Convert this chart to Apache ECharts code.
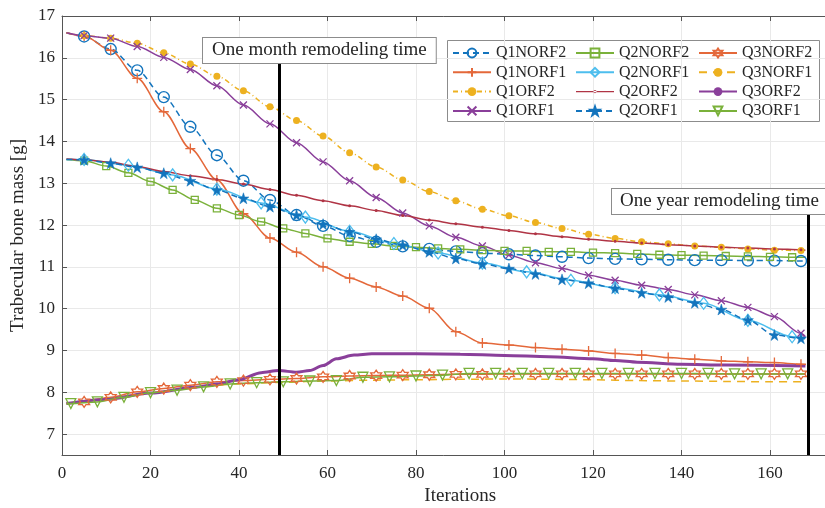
<!DOCTYPE html>
<html><head><meta charset="utf-8">
<script src="https://cdn.jsdelivr.net/npm/echarts@6/dist/echarts.min.js"></script>
<style>html,body{margin:0;padding:0;background:#fff}#c{width:825px;height:508px}</style>
</head><body><div id="c"></div><script>
// ---------- data ----------
const xTicks = [0,20,40,60,80,100,120,140,160];
const yTicks = [7,8,9,10,11,12,13,14,15,16,17];
const iterStart = 1, iterEnd = 168;
const monthIter = 49, yearIter = 168.6;

const it6a = [5,11,17,23,29,35,41,47,53,59,65,71,77,83,89,95,101,107,113,119,125,131,137,143,149,155,161,167];
const it6b = [2,8,14,20,26,32,38,44,50,56,62,68,74,80,86,92,98,104,110,116,122,128,134,140,146,152,158,164];
const it5  = [5,10,15,20,25,30,35,40,45,50,55,60,65,70,75,80,85,90,95,100,105,110,115,120,125,130,135,140,145,150,155,160,165];
const it10 = [5,15,25,35,45,55,65,75,85,95,105,115,125,135,145,155,165];

const Q1NORF2 = {start:16.6, end:11.14, it:it6a, v:[16.51,16.21,15.70,15.06,14.35,13.67,13.06,12.60,12.24,11.98,11.74,11.60,11.49,11.43,11.37,11.33,11.30,11.27,11.24,11.21,11.19,11.18,11.17,11.16,11.16,11.15,11.15,11.14]};
const Q1NORF1 = {start:16.6, end:8.66, it:it6a, v:[16.52,16.18,15.51,14.71,13.83,13.08,12.27,11.69,11.35,11.00,10.73,10.52,10.30,10.01,9.45,9.18,9.13,9.07,9.03,8.99,8.93,8.89,8.83,8.79,8.75,8.73,8.71,8.67]};
const Q1ORF2 = {start:16.6, end:11.39, it:it6a, v:[16.53,16.47,16.35,16.12,15.85,15.56,15.21,14.83,14.50,14.13,13.73,13.39,13.08,12.80,12.58,12.38,12.22,12.06,11.92,11.78,11.68,11.60,11.55,11.50,11.47,11.43,11.40,11.39]};
const Q1ORF1 = {start:16.6, end:9.33, it:it6a, v:[16.53,16.47,16.27,16.01,15.72,15.33,14.87,14.42,13.97,13.51,13.06,12.66,12.29,11.98,11.71,11.50,11.28,11.10,10.96,10.80,10.68,10.56,10.46,10.33,10.19,10.03,9.81,9.41]};
const Q2NORF2 = {start:13.57, end:11.23, it:it5, v:[13.54,13.41,13.25,13.04,12.84,12.60,12.40,12.24,12.08,11.92,11.80,11.68,11.60,11.55,11.50,11.47,11.44,11.42,11.40,11.38,11.38,11.36,11.36,11.34,11.33,11.31,11.29,11.28,11.27,11.26,11.25,11.24,11.23]};
const Q2NORF1 = {start:13.57, end:9.30, it:it10, v:[13.57,13.43,13.20,12.86,12.53,12.19,11.85,11.56,11.33,11.09,10.88,10.68,10.50,10.33,10.13,9.72,9.33]};
const Q2ORF2 = {start:13.58, end:11.40, it:it6a, v:[13.56,13.50,13.40,13.28,13.18,13.09,12.98,12.85,12.71,12.58,12.46,12.35,12.23,12.12,12.03,11.95,11.87,11.79,11.72,11.66,11.61,11.57,11.53,11.50,11.47,11.45,11.43,11.41]};
const Q2ORF1 = {start:13.57, end:9.28, it:it6a, v:[13.56,13.48,13.38,13.24,13.06,12.84,12.64,12.44,12.24,12.02,11.84,11.66,11.52,11.36,11.20,11.07,10.96,10.83,10.70,10.61,10.49,10.38,10.28,10.14,9.98,9.73,9.37,9.29]};
const Q3NORF2 = {start:7.73, end:8.44, it:it6a, v:[7.77,7.88,8.01,8.09,8.17,8.25,8.28,8.31,8.33,8.37,8.39,8.40,8.41,8.42,8.43,8.43,8.44,8.44,8.44,8.44,8.44,8.44,8.44,8.44,8.44,8.44,8.44,8.44]};
const Q3NORF1 = {it:[1,10,20,30,40,50,60,70,80,90,100,110,120,130,140,150,160,168], v:[7.73,7.85,7.99,8.12,8.20,8.24,8.27,8.29,8.30,8.31,8.32,8.31,8.30,8.28,8.27,8.26,8.25,8.25]};
const Q3ORF2 = {it:[1,10,20,30,35,40,45,49,53,56,59,62,66,70,80,90,100,110,120,125,130,140,150,168], v:[7.73,7.83,7.98,8.12,8.20,8.30,8.47,8.52,8.48,8.52,8.64,8.80,8.89,8.92,8.92,8.91,8.88,8.85,8.80,8.76,8.72,8.67,8.65,8.63]};
const Q3ORF1 = {start:7.72, end:8.44, it:it6b, v:[7.73,7.77,7.88,7.99,8.05,8.13,8.20,8.23,8.25,8.27,8.28,8.36,8.37,8.39,8.41,8.45,8.45,8.45,8.45,8.45,8.45,8.45,8.45,8.45,8.45,8.44,8.44,8.44]};

// ---------- style ----------
const C = {blue:'#1374BD', orange:'#E4683A', yellow:'#EDB120', purple:'#8A3F9A', green:'#7AB13A', lblue:'#4DBEEE', red:'#B03445'};
const FONT = 'Liberation Serif';
const SYM = {
  plus:'path://M5,0V10M0,5H10',
  cross:'path://M0,0L10,10M10,0L0,10',
  star:'path://M50,0L61.8,35.1L98.9,35.1L68.9,56.7L80.3,91.9L50,70.2L19.7,91.9L31.1,56.7L1.1,35.1L38.2,35.1Z',
  hex:'path://M50,0L64.4,25L93.3,25L78.9,50L93.3,75L64.4,75L50,100L35.6,75L6.7,75L21.1,50L6.7,25L35.6,25Z',
  lineDot:'path://M0,0M38,11M0,4.8H38V6.2H0ZM17.4,5.5A1.6,1.6,0,1,0,20.6,5.5A1.6,1.6,0,1,0,17.4,5.5Z'
};

function withEnds(s){
  const d = [{value:[iterStart, s.start], symbol:'none'}];
  s.it.forEach((x,i)=>d.push([x, s.v[i]]));
  d.push({value:[iterEnd, s.end], symbol:'none'});
  return d;
}
function plain(s){ return s.it.map((x,i)=>[x, s.v[i]]); }

function ser(name, data, color, o){
  return Object.assign({
    name, type:'line', data, smooth:0.3, smoothMonotone:'x',
    showAllSymbol:true, animation:false, emphasis:{disabled:true},
    lineStyle:{color, width:1.5, type:o.dash||'solid'},
    symbol:o.symbol||'none', symbolSize:o.size||8,
    itemStyle:o.item||{color}
  }, o.extra||{});
}
const hollow = (c,w)=>({color:'rgba(255,255,255,0)', borderColor:c, borderWidth:w||1.3});

const series = [
  ser('Q1NORF2', withEnds(Q1NORF2), C.blue, {dash:[6,4], symbol:'circle', size:11, item:hollow(C.blue,1.4)}),
  ser('Q1NORF1', withEnds(Q1NORF1), C.orange, {symbol:SYM.plus, size:10, item:hollow(C.orange,1.3)}),
  ser('Q1ORF2', withEnds(Q1ORF2), C.yellow, {dash:[5,3,1,3], symbol:'circle', size:7, item:{color:C.yellow}}),
  ser('Q1ORF1', withEnds(Q1ORF1), C.purple, {symbol:SYM.cross, size:7, item:hollow(C.purple,1.3)}),
  ser('Q2NORF2', withEnds(Q2NORF2), C.green, {symbol:'rect', size:7, item:hollow(C.green,1.3)}),
  ser('Q2NORF1', withEnds(Q2NORF1), C.lblue, {symbol:'diamond', size:[9,12], item:hollow(C.lblue,1.3)}),
  ser('Q2ORF2', withEnds(Q2ORF2), C.red, {symbol:'circle', size:3, item:{color:C.red}}),
  ser('Q2ORF1', withEnds(Q2ORF1), C.blue, {dash:[6,4], symbol:SYM.star, size:11, item:{color:C.blue, borderColor:C.blue, borderWidth:0.5}}),
  ser('Q3NORF2', withEnds(Q3NORF2), C.orange, {symbol:SYM.hex, size:11, item:hollow(C.orange,1.3)}),
  ser('Q3NORF1', plain(Q3NORF1), C.yellow, {dash:[8,6], symbol:'none', item:{color:C.yellow}}),
  ser('Q3ORF2', plain(Q3ORF2), C.purple, {symbol:'none', item:{color:C.purple}}),
  ser('Q3ORF1', withEnds(Q3ORF1), C.green, {symbol:'triangle', size:10, item:hollow(C.green,1.3), extra:{symbolRotate:180}})
];
series[10].lineStyle.width = 3;
series[11].markLine = {
  silent:true, symbol:['none','none'], label:{show:false}, animation:false,
  lineStyle:{color:'#000', width:3, type:'solid'},
  data:[[{coord:[monthIter,15.9]},{coord:[monthIter,6.5]}],[{coord:[yearIter,12.29]},{coord:[yearIter,6.5]}]]
};

const legendBase = {
  orient:'vertical', top:40, itemWidth:38, itemHeight:11, itemGap:3.3,
  textStyle:{fontFamily:FONT, fontSize:16, color:'#262626', lineHeight:16},
  selectedMode:false
};
const axisLineC = '#555', gridC = '#e9e9e9', labelC = '#262626';

const option = {
  backgroundColor:'#fff',
  animation:false,
  grid:{left:62, top:16, width:796.5, height:439, containLabel:false, outerBoundsMode:'none'},
  xAxis:[{
    type:'value', min:0, max:180, interval:20,
    name:'Iterations', nameLocation:'middle', nameGap:30,
    nameTextStyle:{fontFamily:FONT, fontSize:19, color:labelC},
    axisLine:{lineStyle:{color:axisLineC, width:1}},
    axisTick:{inside:true, length:5, lineStyle:{color:axisLineC}},
    axisLabel:{fontFamily:FONT, fontSize:17, color:labelC, margin:10, formatter:v=>xTicks.includes(v)?String(v):''},
    splitLine:{show:true, lineStyle:{color:gridC, width:1}}
  },{
    type:'value', position:'top', min:0, max:180, interval:20,
    axisLine:{show:true, onZero:false, lineStyle:{color:axisLineC, width:1}},
    axisTick:{show:true, inside:true, length:5, lineStyle:{color:axisLineC}},
    axisLabel:{show:false}, splitLine:{show:false}
  }],
  yAxis:{
    type:'value', min:6.5, max:17,
    name:'Trabecular bone mass [g]', nameLocation:'middle', nameGap:31,
    nameTextStyle:{fontFamily:FONT, fontSize:19, color:labelC},
    axisLine:{show:true, lineStyle:{color:axisLineC, width:1}},
    axisTick:{show:true, inside:true, length:5, customValues:yTicks, lineStyle:{color:axisLineC}},
    axisLabel:{fontFamily:FONT, fontSize:17, color:labelC, margin:7, customValues:yTicks},
    splitLine:{show:true, lineStyle:{color:gridC, width:1}}
  },
  legend:[
    Object.assign({}, legendBase, {left:447, data:['Q1NORF2','Q1NORF1','Q1ORF2','Q1ORF1']}),
    Object.assign({}, legendBase, {left:570, data:['Q2NORF2','Q2NORF1',{name:'Q2ORF2', icon:SYM.lineDot, itemStyle:{color:C.red}},'Q2ORF1']}),
    Object.assign({}, legendBase, {left:693, data:['Q3NORF2','Q3NORF1','Q3ORF2','Q3ORF1']})
  ],
  graphic:[
    {type:'rect', left:447, top:40, z:0, shape:{width:372, height:81}, style:{fill:'#fff', stroke:'#8c8c8c', lineWidth:1}},
    {type:'text', left:202, top:37, z:100, style:{text:'One month remodeling time', font:'19px "Liberation Serif"', fill:'#262626',
      backgroundColor:'#fff', borderColor:'#8c8c8c', borderWidth:1, padding:[3,9,3,9]}},
    {type:'text', left:611, top:188, z:100, style:{text:'One year remodeling time', font:'19px "Liberation Serif"', fill:'#262626',
      backgroundColor:'#fff', borderColor:'#8c8c8c', borderWidth:1, padding:[3,7,3,8]}}
  ],
  series
};
const chart = echarts.init(document.getElementById('c'), null, {renderer:'canvas'});
chart.setOption(option);
</script></body></html>
